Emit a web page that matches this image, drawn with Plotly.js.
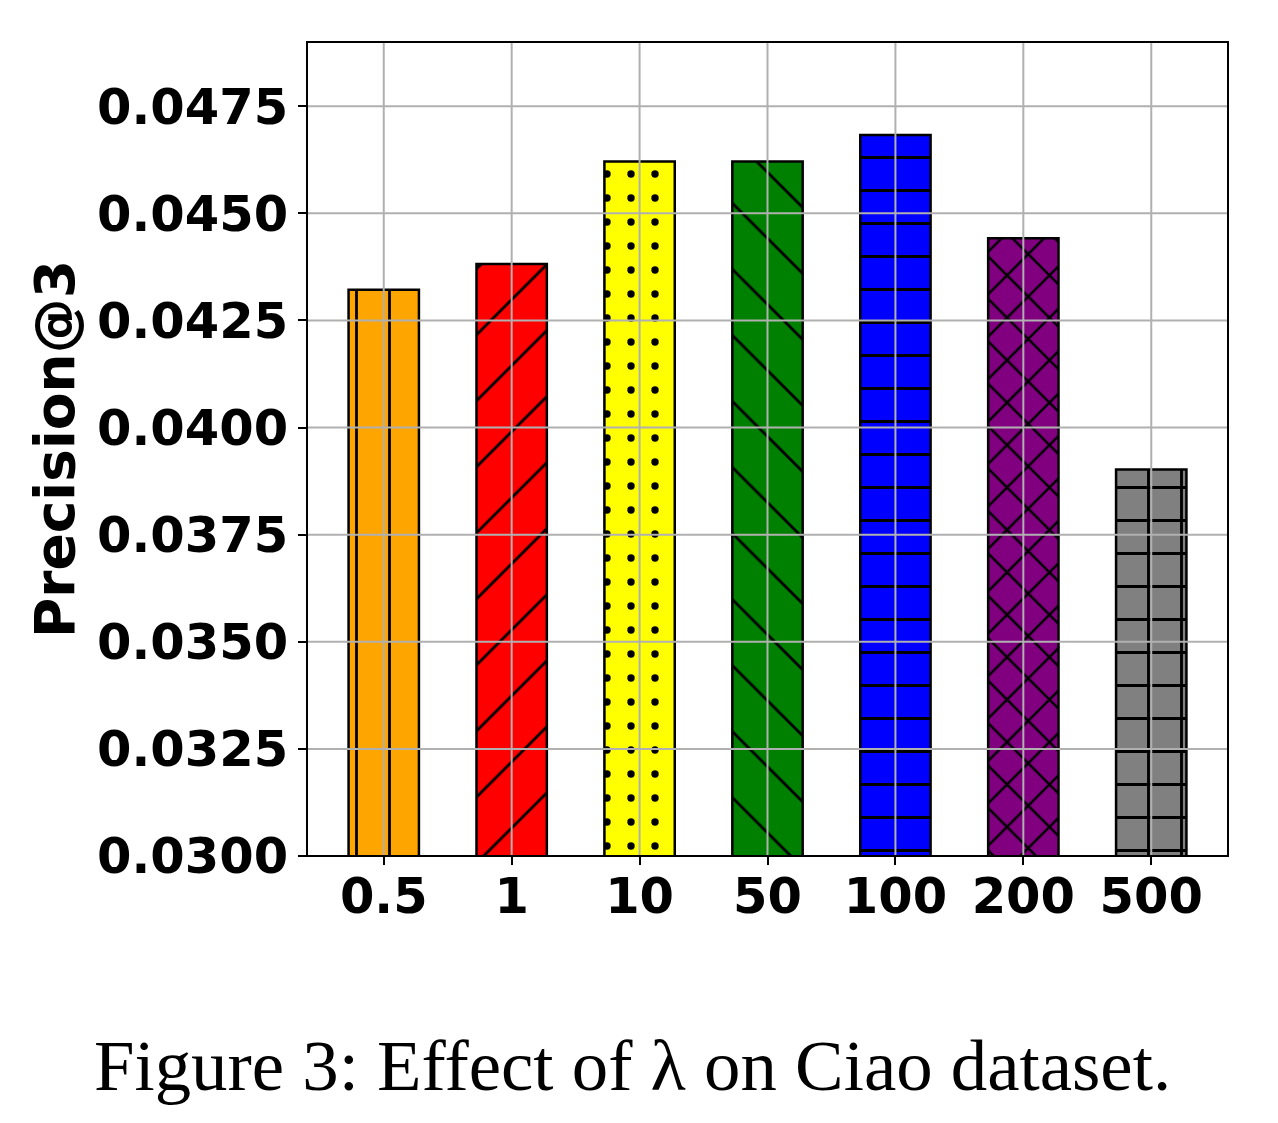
<!DOCTYPE html>
<html>
<head>
<meta charset="utf-8">
<script src="https://cdn.plot.ly/plotly-3.0.1.min.js"></script>
<style>html,body{margin:0;padding:0;background:#fff;}#chart{width:1278px;height:1123px;}</style>
</head>
<body>
<div id="chart"></div>
<script>
// ---- data ----
var lambdas = ['0.5', '1', '10', '50', '100', '200', '500'];
var precision = [0.04322, 0.04382, 0.04621, 0.04621, 0.04683, 0.04442, 0.03902];
var barColors = ['#ffa500', '#ff0000', '#ffff00', '#008000', '#0000ff', '#800080', '#808080'];
var hatchShapes = ['|', '/', '.', '\\', '-', 'x', '+'];
var yTicks = [0.0300, 0.0325, 0.0350, 0.0375, 0.0400, 0.0425, 0.0450, 0.0475];
var yRange = [0.0300, 0.0490];
var caption = 'Figure 3: Effect of λ on Ciao dataset.';

var hatchSize = [33, 46.7, 24, 46.7, 33, 30, 33];
var hatchSolidity = [0.085, 0.06, 0.075, 0.06, 0.085, 0.16, 0.165];

var traces = lambdas.map(function (lab, i) {
  return {
    type: 'bar',
    x: [lab],
    y: [precision[i]],
    width: 0.55,
    marker: {
      color: barColors[i],
      line: {color: '#000', width: 2.5},
      pattern: {
        shape: hatchShapes[i],
        size: hatchSize[i],
        solidity: hatchSolidity[i],
        fgcolor: '#000',
        fgopacity: 1,
        fillmode: 'overlay'
      }
    },
    hoverinfo: 'x+y'
  };
});

var shapes = [];
yTicks.forEach(function (v) {
  if (v > yRange[0]) {
    shapes.push({type: 'line', layer: 'above', xref: 'paper', yref: 'y', x0: 0, x1: 1, y0: v, y1: v,
      line: {color: '#b0b0b0', width: 2}});
  }
});
lambdas.forEach(function (c, i) {
  shapes.push({type: 'line', layer: 'above', xref: 'x', yref: 'paper', x0: i, x1: i, y0: 0, y1: 1,
    line: {color: '#b0b0b0', width: 2}});
});
// frame
shapes.push({type: 'rect', layer: 'above', xref: 'paper', yref: 'paper', x0: 0, x1: 1, y0: 0, y1: 1,
  line: {color: '#000', width: 2}});

var tickFont = {family: 'DejaVu Sans', size: 49.5, color: '#000', weight: 'bold'};

var layout = {
  width: 1278,
  height: 1123,
  margin: {l: 307, r: 50, t: 42, b: 267},
  paper_bgcolor: '#fff',
  plot_bgcolor: '#fff',
  showlegend: false,
  barmode: 'overlay',
  font: {family: 'DejaVu Sans', color: '#000'},
  xaxis: {
    type: 'category',
    range: [-0.6, 6.6],
    showgrid: false,
    showline: false,
    ticks: 'outside',
    ticklen: 8,
    tickwidth: 2,
    tickcolor: '#000',
    tickfont: tickFont,
    ticklabelstandoff: -11,
    zeroline: false
  },
  yaxis: {
    range: yRange,
    tickvals: yTicks,
    tickformat: '.4f',
    showgrid: false,
    showline: false,
    ticks: 'outside',
    ticklen: 8,
    tickwidth: 2,
    tickcolor: '#000',
    tickfont: tickFont,
    zeroline: false,
    title: {text: 'Precision@3', font: {family: 'DejaVu Sans', size: 55, color: '#000', weight: 'bold'}, standoff: 4}
  },
  shapes: shapes,
  annotations: [{
    text: caption,
    xref: 'paper', yref: 'paper',
    x: 0.353, y: -0.257,
    xanchor: 'center', yanchor: 'middle',
    showarrow: false,
    font: {family: 'Liberation Serif', size: 72.8, color: '#000'}
  }]
};

Plotly.newPlot('chart', traces, layout, {displayModeBar: false, staticPlot: true});
</script>
</body>
</html>
